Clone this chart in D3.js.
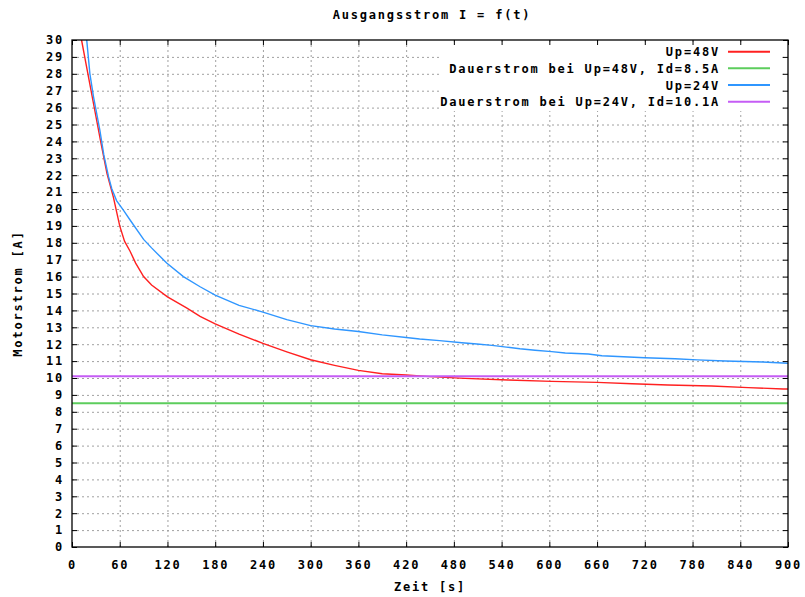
<!DOCTYPE html>
<html>
<head>
<meta charset="utf-8">
<script src="https://cdn.jsdelivr.net/npm/d3@7"></script>
<style>
  body { margin: 0; background: #fff; }
  svg text {
    font-family: "DejaVu Sans Mono", "Liberation Mono", monospace;
    font-weight: bold;
    font-size: 12px;
    letter-spacing: 1.8px;
    fill: #000;
  }
</style>
</head>
<body>
<svg id="chart" width="805" height="597"></svg>
<script>
// Chart texts
const title = "Ausgangsstrom I = f(t)";
const xLabel = "Zeit [s]";
const yLabel = "Motorstrom [A]";

// Axis ticks
const xTicks = [0, 60, 120, 180, 240, 300, 360, 420, 480, 540, 600, 660, 720, 780, 840, 900];
const yTicks = d3.range(0, 31);

// Measured current, Up=48V  [t in s, I in A]
const up48 = [
  [12, 30], [20, 28], [28, 26], [36, 24], [44, 22.1], [52, 20.7], [60, 19.0],
  [66, 18.1], [73, 17.5], [80, 16.8], [90, 16.0], [100, 15.5], [120, 14.8],
  [144, 14.15], [161, 13.65], [180, 13.2], [210, 12.6], [240, 12.05], [270, 11.55],
  [300, 11.08], [330, 10.75], [360, 10.45], [390, 10.25], [420, 10.18],
  [450, 10.08], [494, 9.98], [548, 9.88], [603, 9.8], [660, 9.74], [704, 9.66],
  [749, 9.59], [804, 9.53], [850, 9.43], [894, 9.35], [900, 9.35],
];

// Measured current, Up=24V
const up24 = [
  [18.5, 30], [22.5, 28], [27, 26.65], [35, 24.67], [40, 23.2], [46, 21.9],
  [50, 21.2], [56, 20.5], [65, 19.9], [73, 19.35], [90, 18.2], [100, 17.7],
  [119, 16.8], [140, 16.0], [161, 15.4], [180, 14.9], [210, 14.3], [240, 13.9],
  [270, 13.45], [300, 13.1], [330, 12.9], [360, 12.75], [390, 12.55],
  [420, 12.4], [437, 12.31], [462, 12.21], [490, 12.09], [509, 12.01],
  [528, 11.93], [546, 11.83], [563, 11.73], [582, 11.64], [603, 11.56],
  [620, 11.48], [649, 11.42], [666, 11.32], [693, 11.26], [720, 11.2],
  [758, 11.14], [786, 11.07], [821, 11.01], [868, 10.95], [900, 10.87],
];

// Continuous current levels
const dauer48 = 8.5;
const dauer24 = 10.1;

// Legend entries, in drawing order
const legendLabels = [
  "Up=48V",
  "Dauerstrom bei Up=48V, Id=8.5A",
  "Up=24V",
  "Dauerstrom bei Up=24V, Id=10.1A",
];
const colors = ["#ff2020", "#5ccd5c", "#2f96ff", "#c55cf5"];

// Layout
const width = 805;
const height = 597;
const margin = { top: 40, right: 17, bottom: 50, left: 72 };

const svg = d3.select("#chart");

const x = d3.scaleLinear().domain([0, 900]).range([margin.left, width - margin.right]);
const y = d3.scaleLinear().domain([0, 30]).range([height - margin.bottom, margin.top]);

const plotW = width - margin.left - margin.right;
const plotH = height - margin.top - margin.bottom;

// Dotted grid
const gridY = svg
  .append("g")
  .attr("transform", `translate(${margin.left},0)`)
  .call(d3.axisLeft(y).tickValues(yTicks.slice(1, -1)).tickSize(-plotW).tickFormat(""));
const gridX = svg
  .append("g")
  .attr("transform", `translate(0,${height - margin.bottom})`)
  .call(d3.axisBottom(x).tickValues(xTicks.slice(1, -1)).tickSize(-plotH).tickFormat(""));
for (const g of [gridY, gridX]) {
  g.select(".domain").remove();
  g.selectAll("line")
    .attr("stroke", "#a0a0a0")
    .attr("stroke-width", 1)
    .attr("stroke-dasharray", "2,3");
}

// Clip the curves to the plot area
svg
  .append("clipPath")
  .attr("id", "plot-clip")
  .append("rect")
  .attr("x", margin.left)
  .attr("y", margin.top)
  .attr("width", plotW)
  .attr("height", plotH);

const line = d3
  .line()
  .x((d) => x(d[0]))
  .y((d) => y(d[1]));

const series = [
  up48,
  [[0, dauer48], [900, dauer48]],
  up24,
  [[0, dauer24], [900, dauer24]],
];

svg
  .append("g")
  .attr("clip-path", "url(#plot-clip)")
  .selectAll("path")
  .data(series)
  .join("path")
  .attr("d", line)
  .attr("fill", "none")
  .attr("stroke", (d, i) => colors[i])
  .attr("stroke-width", (d, i) => (i % 2 ? 2 : 1.4));

// Key sits on an opaque box over the grid
const key = svg.append("g");
key
  .append("rect")
  .attr("x", 440)
  .attr("y", 44)
  .attr("width", 342)
  .attr("height", 67)
  .attr("fill", "#fff");

const keyRows = key
  .selectAll("g.row")
  .data(legendLabels)
  .join("g")
  .attr("class", "row")
  .attr("transform", (d, i) => `translate(0,${51.7 + i * 16.67})`);
keyRows
  .append("text")
  .attr("x", 720)
  .attr("y", 4.5)
  .attr("text-anchor", "end")
  .text((d) => d);
keyRows
  .append("line")
  .attr("x1", 728)
  .attr("x2", 770)
  .attr("stroke", (d, i) => colors[i])
  .attr("stroke-width", 2);

// Axes with inward ticks on all four sides
const axisL = svg
  .append("g")
  .attr("transform", `translate(${margin.left},0)`)
  .call(d3.axisLeft(y).tickValues(yTicks).tickSize(-5).tickPadding(8));
const axisB = svg
  .append("g")
  .attr("transform", `translate(0,${height - margin.bottom})`)
  .call(d3.axisBottom(x).tickValues(xTicks).tickSize(-5).tickPadding(13.5));
const axisT = svg
  .append("g")
  .attr("transform", `translate(0,${margin.top})`)
  .call(d3.axisTop(x).tickValues(xTicks).tickSize(-5).tickFormat(""));
const axisR = svg
  .append("g")
  .attr("transform", `translate(${width - margin.right},0)`)
  .call(d3.axisRight(y).tickValues(yTicks).tickSize(-5).tickFormat(""));

for (const g of [axisL, axisB, axisT, axisR]) {
  g.select(".domain").remove();
  g.selectAll("line").attr("stroke", "#000");
  g.attr("font-family", null).attr("font-size", null);
}

// Plot border
svg
  .append("rect")
  .attr("x", margin.left)
  .attr("y", margin.top)
  .attr("width", plotW)
  .attr("height", plotH)
  .attr("fill", "none")
  .attr("stroke", "#000")
  .attr("stroke-width", 1.3);

// Title and axis labels
svg
  .append("text")
  .attr("x", (margin.left + width - margin.right) / 2 + 2)
  .attr("y", 19)
  .attr("text-anchor", "middle")
  .text(title);
svg
  .append("text")
  .attr("x", (margin.left + width - margin.right) / 2)
  .attr("y", 591)
  .attr("text-anchor", "middle")
  .text(xLabel);
svg
  .append("text")
  .attr("transform", `translate(22,${(margin.top + height - margin.bottom) / 2}) rotate(-90)`)
  .attr("text-anchor", "middle")
  .text(yLabel);
</script>
</body>
</html>
